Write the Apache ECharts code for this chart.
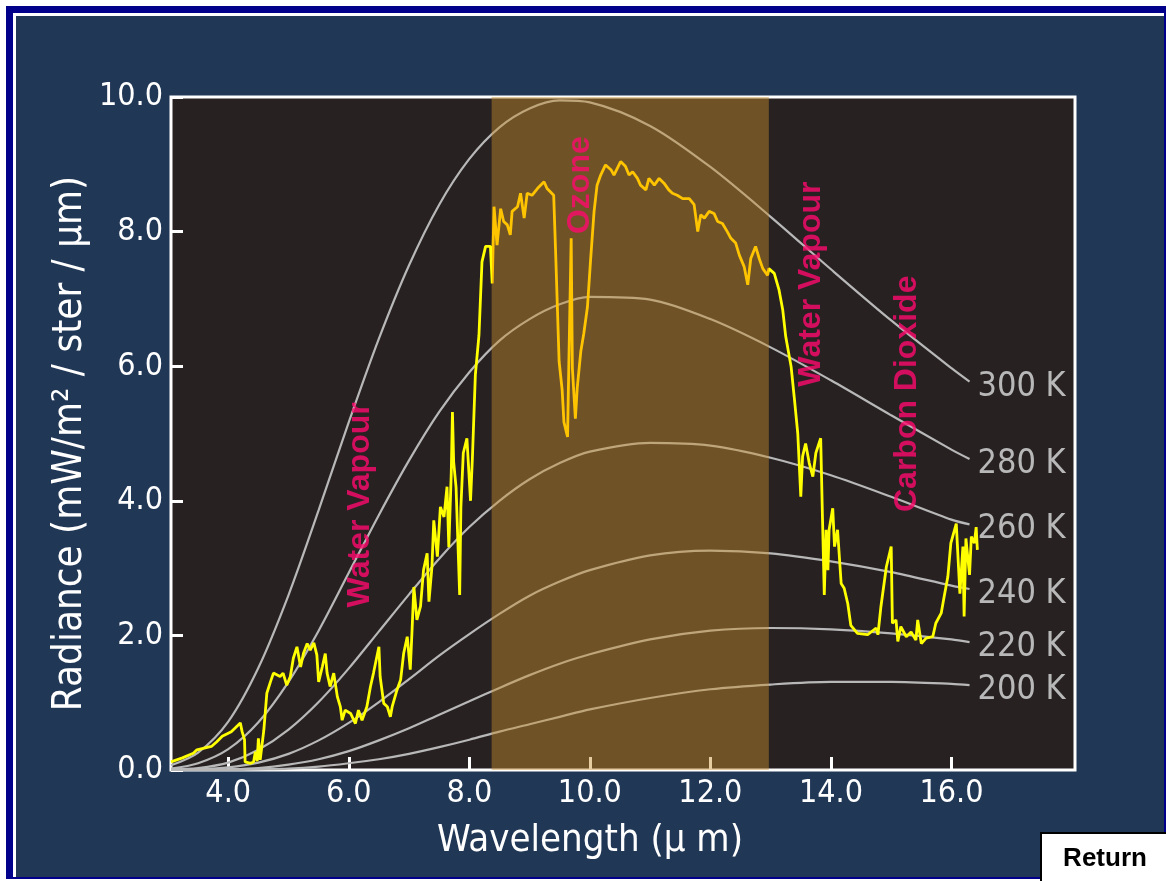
<!DOCTYPE html>
<html>
<head>
<meta charset="utf-8">
<script src="https://cdn.jsdelivr.net/npm/echarts@6/dist/echarts.min.js"></script>
<style>
  html, body { margin: 0; padding: 0; background: #ffffff; width: 1166px; height: 881px; overflow: hidden; }
  .f { position: absolute; }
  #f1 { left: 6px; top: 6px; width: 1160px; height: 873px; background: #00008b; }
  #f2 { left: 13px; top: 13px; width: 1151px; height: 864px; background: #ffffff; }
  #f3 { left: 16px; top: 16px; width: 1148px; height: 861px; background: #213756; }
  #chart { position: absolute; left: 0; top: 0; width: 1166px; height: 881px; }
</style>
</head>
<body>
<div id="f1" class="f"></div>
<div id="f2" class="f"></div>
<div id="f3" class="f"></div>
<div id="chart"></div>
<script>
// ---- data ----
const xTicks = [4, 6, 8, 10, 12, 14, 16];
const yTicks = [0, 2, 4, 6, 8, 10];
const ozoneBand = [8.37, 12.97];
const tempNames = ['300 K', '280 K', '260 K', '240 K', '220 K', '200 K'];
const planckWl = [3.05, 3.5, 4, 4.5, 5, 5.5, 6, 6.5, 7, 7.5, 8, 8.5, 9, 9.5, 10, 11, 12, 13, 14, 15, 16, 16.3];
const r300 = [0.07, 0.26, 0.72, 1.52, 2.60, 3.86, 5.17, 6.41, 7.50, 8.40, 9.08, 9.55, 9.83, 9.95, 9.92, 9.57, 8.96, 8.22, 7.44, 6.68, 5.97, 5.77];
const r280 = [0.02, 0.10, 0.31, 0.71, 1.31, 2.07, 2.93, 3.79, 4.60, 5.32, 5.91, 6.38, 6.70, 6.92, 7.03, 6.99, 6.70, 6.28, 5.79, 5.27, 4.76, 4.62];
const r260 = [0.01, 0.03, 0.11, 0.30, 0.60, 1.01, 1.51, 2.06, 2.61, 3.14, 3.61, 4.00, 4.32, 4.56, 4.73, 4.86, 4.82, 4.64, 4.38, 4.06, 3.72, 3.65];
const r240 = [0.00, 0.01, 0.04, 0.11, 0.24, 0.44, 0.70, 1.01, 1.35, 1.70, 2.02, 2.32, 2.59, 2.80, 2.97, 3.19, 3.26, 3.22, 3.10, 2.94, 2.74, 2.69];
const r220 = [0.00, 0.00, 0.01, 0.03, 0.08, 0.16, 0.28, 0.44, 0.62, 0.82, 1.02, 1.22, 1.41, 1.58, 1.72, 1.94, 2.07, 2.11, 2.09, 2.03, 1.94, 1.90];
const r200 = [0.00, 0.00, 0.00, 0.01, 0.02, 0.05, 0.10, 0.16, 0.24, 0.34, 0.45, 0.57, 0.68, 0.79, 0.90, 1.07, 1.20, 1.27, 1.31, 1.31, 1.28, 1.26];
const spectrum = [
  [3.05,0.12],[3.24,0.18],[3.42,0.25],[3.48,0.30],[3.72,0.35],[3.81,0.42],[3.90,0.50],[4.05,0.57],
  [4.20,0.70],[4.23,0.57],[4.27,0.45],[4.28,0.12],[4.37,0.10],[4.42,0.12],[4.45,0.27],[4.48,0.13],
  [4.50,0.47],[4.53,0.15],[4.59,0.59],[4.64,1.14],[4.70,1.31],[4.75,1.44],[4.86,1.39],[4.91,1.44],
  [4.97,1.26],[5.03,1.39],[5.08,1.66],[5.14,1.83],[5.20,1.53],[5.25,1.74],[5.31,1.88],[5.36,1.78],
  [5.42,1.89],[5.47,1.71],[5.50,1.31],[5.56,1.53],[5.61,1.73],[5.64,1.44],[5.69,1.24],[5.75,1.44],
  [5.81,1.09],[5.86,0.94],[5.89,0.74],[5.94,0.89],[6.03,0.84],[6.11,0.69],[6.16,0.89],[6.22,0.74],
  [6.30,0.94],[6.36,1.24],[6.41,1.44],[6.50,1.83],[6.52,1.39],[6.58,0.99],[6.64,0.94],[6.69,0.79],
  [6.72,0.94],[6.80,1.19],[6.86,1.34],[6.91,1.73],[6.97,1.98],[7.02,1.49],[7.05,2.08],[7.08,2.72],
  [7.13,2.23],[7.19,2.43],[7.24,2.97],[7.30,3.22],[7.33,2.50],[7.38,3.02],[7.41,3.71],[7.47,3.17],
  [7.52,3.91],[7.58,3.76],[7.63,4.21],[7.66,3.31],[7.70,4.40],[7.72,5.32],[7.74,4.58],[7.78,4.20],
  [7.81,3.40],[7.84,2.60],[7.86,3.90],[7.90,4.71],[7.96,4.93],[8.02,4.00],[8.05,4.61],[8.10,5.87],
  [8.16,6.46],[8.21,7.55],[8.27,7.78],[8.35,7.78],[8.38,7.23],[8.41,8.37],[8.46,7.80],[8.52,8.34],
  [8.57,8.15],[8.63,8.10],[8.68,7.95],[8.71,8.30],[8.80,8.37],[8.85,8.57],[8.91,8.20],[8.96,8.57],
  [9.04,8.54],[9.13,8.64],[9.24,8.74],[9.29,8.64],[9.40,8.54],[9.43,7.75],[9.49,6.07],[9.54,5.65],
  [9.57,5.17],[9.63,4.95],[9.65,5.97],[9.69,7.90],[9.71,5.97],[9.76,5.22],[9.79,5.67],[9.85,6.22],
  [9.90,6.49],[9.96,6.88],[10.01,7.55],[10.07,8.30],[10.12,8.69],[10.18,8.84],[10.26,8.99],[10.35,8.92],
  [10.40,8.84],[10.51,9.04],[10.59,8.97],[10.65,8.84],[10.71,8.89],[10.79,8.79],[10.84,8.69],[10.93,8.62],
  [10.98,8.79],[11.07,8.69],[11.15,8.79],[11.23,8.72],[11.31,8.62],[11.37,8.57],[11.45,8.54],[11.54,8.49],
  [11.65,8.49],[11.73,8.40],[11.79,8.00],[11.84,8.25],[11.90,8.20],[11.98,8.30],[12.06,8.27],[12.12,8.15],
  [12.20,8.12],[12.28,8.00],[12.34,7.90],[12.42,7.83],[12.48,7.65],[12.56,7.48],[12.62,7.21],[12.67,7.60],
  [12.75,7.78],[12.81,7.60],[12.87,7.45],[12.95,7.35],[12.97,7.45],[13.06,7.38],[13.14,7.13],[13.20,6.84],
  [13.25,6.44],[13.34,5.99],[13.39,5.55],[13.45,5.00],[13.50,4.06],[13.53,4.66],[13.58,4.85],[13.64,4.56],
  [13.70,4.36],[13.75,4.71],[13.83,4.93],[13.86,3.74],[13.89,2.60],[13.92,3.57],[13.95,2.97],[13.97,3.57],
  [14.03,3.89],[14.06,3.32],[14.11,3.57],[14.17,2.77],[14.22,2.70],[14.28,2.47],[14.33,2.15],[14.44,2.03],
  [14.61,2.01],[14.75,2.11],[14.78,2.01],[14.83,2.43],[14.92,3.02],[15.00,3.32],[15.02,2.18],[15.08,2.23],
  [15.11,1.91],[15.16,2.13],[15.25,1.98],[15.33,2.05],[15.41,1.93],[15.44,2.23],[15.50,1.88],[15.58,1.96],
  [15.69,1.98],[15.74,2.18],[15.83,2.33],[15.88,2.58],[15.94,2.87],[15.99,3.37],[16.08,3.66],[16.14,2.62],
  [16.19,3.32],[16.21,2.28],[16.24,3.44],[16.30,2.90],[16.33,3.47],[16.38,3.37],[16.41,3.61],[16.43,3.27]
];

// ---- chart ----
const NARROW = "'Liberation Sans Narrow', 'DejaVu Sans Condensed', 'Arial Narrow', sans-serif";
const planckSets = [r300, r280, r260, r240, r220, r200];
const chart = echarts.init(document.getElementById('chart'), null, { renderer: 'canvas' });

const grayLines = planckSets.map((vals, i) => ({
  name: tempNames[i],
  type: 'line',
  z: 2,
  smooth: 0.3,
  showSymbol: false,
  silent: true,
  data: planckWl.map((w, j) => [w, vals[j]]),
  lineStyle: { color: '#b8b8b8', width: 2.2 },
  endLabel: {
    show: true,
    formatter: '{a}',
    color: '#b8b8b8',
    fontSize: 34,
    fontFamily: NARROW,
    distance: 8,
    offset: [0, 5]
  }
}));

const option = {
  animation: false,
  backgroundColor: 'transparent',
  grid: {
    show: true,
    left: 171, right: 91, top: 97, bottom: 111,
    backgroundColor: '#282122',
    borderColor: '#ffffff',
    borderWidth: 3
  },
  xAxis: {
    type: 'value',
    min: 3.05, max: 18.05,
    axisLine: { show: false },
    splitLine: { show: false },
    axisTick: { show: true, inside: true, length: 13, customValues: xTicks, lineStyle: { color: '#ffffff', width: 3 } },
    axisLabel: { customValues: xTicks, formatter: v => v.toFixed(1), color: '#ffffff', fontSize: 32, fontFamily: NARROW, margin: 8 },
    name: 'Wavelength (µ m)',
    nameLocation: 'middle',
    nameGap: 52,
    nameTextStyle: { color: '#ffffff', fontSize: 38, fontFamily: NARROW, padding: [0, 66, 0, 0] }
  },
  yAxis: {
    type: 'value',
    min: 0, max: 10, interval: 2,
    axisLine: { show: false },
    splitLine: { show: false },
    axisTick: { show: true, inside: true, length: 12, lineStyle: { color: '#ffffff', width: 3 } },
    axisLabel: { formatter: v => v.toFixed(1), color: '#ffffff', fontSize: 32, fontFamily: NARROW, margin: 8 },
    name: 'Radiance (mW/m² / ster / µm)',
    nameLocation: 'middle',
    nameGap: 80,
    nameMoveOverlap: false,
    nameTextStyle: { color: '#ffffff', fontSize: 40, fontFamily: NARROW, padding: [0, 20, 0, 0] }
  },
  visualMap: {
    show: false,
    type: 'piecewise',
    seriesIndex: 7,
    dimension: 0,
    pieces: [{ gte: ozoneBand[0], lte: ozoneBand[1], color: '#ffc400' }],
    outOfRange: { color: '#ffff00' }
  },
  series: [
    ...grayLines,
    {
      name: 'window',
      type: 'line',
      silent: true,
      showSymbol: false,
      data: [],
      markArea: {
        silent: true,
        z: 3,
        itemStyle: { color: 'rgba(199,143,47,0.45)' },
        data: [[{ xAxis: ozoneBand[0] }, { xAxis: ozoneBand[1] }]]
      }
    },
    {
      name: 'Radiance',
      type: 'line',
      z: 5,
      showSymbol: false,
      silent: true,
      data: spectrum,
      lineStyle: { width: 2.8 }
    },
    {
      name: 'labels',
      type: 'scatter',
      z: 6,
      silent: true,
      symbolSize: 0,
      label: {
        show: true,
        position: 'inside',
        formatter: '{b}',
        rotate: 90,
        color: '#ff0a6e',
        fontSize: 32,
        fontWeight: 'bold',
        fontFamily: "'Liberation Sans', Arial, sans-serif"
      },
      data: [
        { name: 'Water Vapour', value: [6.19, 3.94] },
        { name: 'Ozone', value: [9.84, 8.69] },
        { name: 'Water Vapour', value: [13.67, 7.22] },
        { name: 'Carbon Dioxide', value: [15.26, 5.59] }
      ]
    }
  ],
  graphic: [
    {
      type: 'group',
      left: 1040, top: 832,
      children: [
        { type: 'rect', shape: { x: 0, y: 0, width: 130, height: 52 }, style: { fill: '#ffffff', stroke: '#000000', lineWidth: 2 } },
        { type: 'text', x: 64, y: 26, style: { text: 'Return', fill: '#000000', font: "bold 26px 'Liberation Sans', Arial, sans-serif", align: 'center', verticalAlign: 'middle' } }
      ]
    }
  ]
};
chart.setOption(option);
</script>
</body>
</html>
